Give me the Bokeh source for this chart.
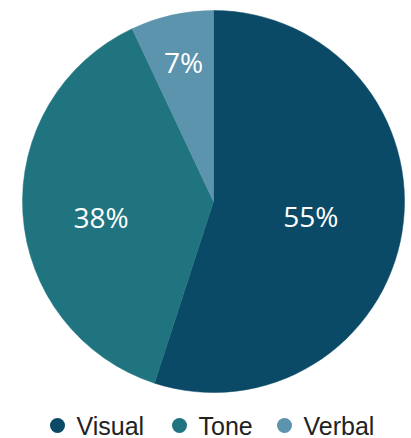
import math
from bokeh.plotting import figure
from bokeh.models import Range1d, ColumnDataSource
from bokeh.core.properties import value
from bokeh.embed import file_html
from bokeh.resources import INLINE

categories = ["Visual", "Tone", "Verbal"]
shares = [55, 38, 7]
colors = ["#0b4a66", "#1f7480", "#5c93ad"]
label_radius_frac = [0.516, 0.594, 0.746]
label_angle_shift_deg = [0.3, 4.0, -0.5]

W, H = 411, 438
p = figure(width=W, height=H, output_backend="svg", toolbar_location=None,
           x_range=Range1d(0, W), y_range=Range1d(0, H),
           min_border=0, outline_line_color=None)
p.axis.visible = False
p.grid.visible = False
p.background_fill_color = "white"
p.border_fill_color = "white"

# page coords: y_data = 438 - y_page
cx, cy, R = 213, 237, 191
total = sum(shares)
starts, ends, lx, ly, labels = [], [], [], [], []
a = math.pi / 2
for s, f, d in zip(shares, label_radius_frac, label_angle_shift_deg):
    sweep = 2 * math.pi * s / total
    end = a - sweep
    starts.append(end)
    ends.append(a)
    mid = a - sweep / 2 + math.radians(d)
    lx.append(cx + f * R * math.cos(mid))
    ly.append(cy + f * R * math.sin(mid))
    labels.append(f"{s}%")
    a = end

src = ColumnDataSource(dict(start=starts, end=ends, color=colors,
                            lx=lx, ly=ly, label=labels))
p.wedge(x=cx, y=cy, radius=R, start_angle="start", end_angle="end",
        fill_color="color", line_color="color", line_width=0.5, source=src)
p.text(x="lx", y="ly", text="label", source=src, text_color="white",
       text_font=value("Open Sans"), text_font_size="28px",
       text_align="center", text_baseline="middle")

# legend
leg_cx = [57, 179, 284]
leg_y = 13
p.scatter(x=leg_cx, y=[leg_y] * 3, size=15, marker="circle",
          fill_color=colors, line_color=None)
p.text(x=[c + 19 for c in leg_cx], y=[leg_y] * 3, text=categories,
       text_color="#222222", text_font=value("Liberation Sans"),
       text_font_size="25px", text_align="left", text_baseline="middle")

open("out.html", "w").write(file_html(p, INLINE))
